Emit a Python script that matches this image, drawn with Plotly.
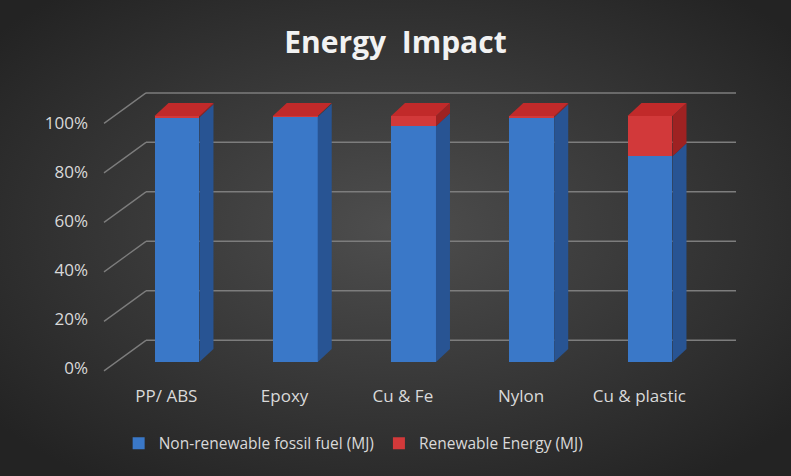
import base64
import plotly.graph_objects as go

# ---------------- data ----------------
categories = ["PP/ ABS", "Epoxy", "Cu & Fe", "Nylon", "Cu & plastic"]
non_renewable = [0.995, 0.996, 0.958, 0.995, 0.836]   # share of total energy
renewable = [0.005, 0.004, 0.042, 0.005, 0.164]
y_ticks = [0, 0.2, 0.4, 0.6, 0.8, 1.0]
y_tick_labels = ["0%", "20%", "40%", "60%", "80%", "100%"]
series_names = ["Non-renewable fossil fuel (MJ)", "Renewable Energy (MJ)"]

# ---------------- styling / geometry ----------------
W, H = 791, 476
PX_PER_CAT = 118.25          # horizontal px per category
X0_PX = 177                  # px of first category centre
PX_PER_UNIT = 246            # vertical px per 100 %
Y0_PX = 362                  # px of 0 % on the bar front plane

BAR_W = 0.38                 # front face width (category units)
DX = 14 / PX_PER_CAT         # bar depth offset
DY = 13 / PX_PER_UNIT

WALL_FRONT_X = (104 - X0_PX) / PX_PER_CAT
WALL_BACK_X = (146 - X0_PX) / PX_PER_CAT
WALL_RIGHT_X = (736 - X0_PX) / PX_PER_CAT
WALL_FRONT_YOFF = -0.036
WALL_BACK_YOFF = 0.088
WALL_SCALE = 1.006
LABEL_X = (88 - X0_PX) / PX_PER_CAT
LABEL_SCALE = 0.993
LABEL_YOFF = -0.03
CAT_LABEL_DX = -0.09
CAT_LABEL_Y = (Y0_PX - 398) / PX_PER_UNIT

FONT = "'Open Sans', Lato, sans-serif"
TXT = "#d9d9d9"
GRID = "#7d7d7d"
BLUE_FRONT, BLUE_SIDE = "#3a78c8", "#285493"
RED_FRONT, RED_SIDE, RED_TOP = "#d2393a", "#9e2222", "#c12a2a"

fig = go.Figure()

# background radial gradient as svg
svg = f'''<svg xmlns="http://www.w3.org/2000/svg" width="{W}" height="{H}">
<defs><radialGradient id="g" cx="50%" cy="48%" r="65%">
<stop offset="0%" stop-color="#4e4e4e"/><stop offset="100%" stop-color="#232323"/>
</radialGradient></defs><rect width="{W}" height="{H}" fill="url(#g)"/></svg>'''
bg = "data:image/svg+xml;base64," + base64.b64encode(svg.encode()).decode()

xs = list(range(len(categories)))

# gridlines (wall + floor diagonals)
shapes = []
for t in y_ticks:
    yf = t * WALL_SCALE + WALL_FRONT_YOFF
    yb = t * WALL_SCALE + WALL_BACK_YOFF
    shapes.append(dict(type="line", xref="x", yref="y", x0=WALL_FRONT_X, y0=yf,
                       x1=WALL_BACK_X, y1=yb, line=dict(color=GRID, width=1.3), layer="below"))
    shapes.append(dict(type="line", xref="x", yref="y", x0=WALL_BACK_X, y0=yb,
                       x1=WALL_RIGHT_X, y1=yb, line=dict(color=GRID, width=1.5), layer="below"))

# front faces as bars
fig.add_trace(go.Bar(x=xs, y=non_renewable, width=BAR_W, name=series_names[0],
                     marker=dict(color=BLUE_FRONT, line=dict(width=0))))
fig.add_trace(go.Bar(x=xs, y=renewable, width=BAR_W, name=series_names[1],
                     marker=dict(color=RED_FRONT, line=dict(width=0))))

def poly(px, py, color):
    fig.add_trace(go.Scatter(x=px + [px[0]], y=py + [py[0]], mode="lines", fill="toself",
                             fillcolor=color, line=dict(width=0, color=color),
                             hoverinfo="skip", showlegend=False))

hw = BAR_W / 2
for i, (a, b) in enumerate(zip(non_renewable, renewable)):
    segs = [(0, a, BLUE_SIDE), (a, a + b, RED_SIDE)]
    for lo, hi, c in segs:
        poly([i + hw, i + hw + DX, i + hw + DX, i + hw],
             [lo, lo + DY, hi + DY, hi], c)
    top = a + b
    poly([i - hw, i + hw, i + hw + DX, i - hw + DX],
         [top, top, top + DY, top + DY], RED_TOP)

# y tick labels
fig.add_trace(go.Scatter(x=[LABEL_X] * len(y_ticks),
                         y=[t * LABEL_SCALE + LABEL_YOFF for t in y_ticks],
                         text=y_tick_labels, mode="text", textposition="middle left",
                         textfont=dict(family=FONT, size=17, color=TXT),
                         hoverinfo="skip", showlegend=False))
# category labels
fig.add_trace(go.Scatter(x=[i + CAT_LABEL_DX for i in xs], y=[CAT_LABEL_Y] * len(xs),
                         text=categories, mode="text", textposition="middle center",
                         textfont=dict(family=FONT, size=17, color=TXT),
                         hoverinfo="skip", showlegend=False))

fig.update_layout(
    width=W, height=H, autosize=False,
    margin=dict(l=0, r=0, t=0, b=0),
    barmode="stack",
    paper_bgcolor="#333333", plot_bgcolor="rgba(0,0,0,0)",
    images=[dict(source=bg, xref="paper", yref="paper", x=0, y=1, sizex=1, sizey=1,
                 xanchor="left", yanchor="top", sizing="stretch", layer="below")],
    shapes=shapes,
    title=dict(text="<b>Energy  Impact</b>", x=0.5, xanchor="center", y=0.910, yanchor="middle",
               font=dict(family=FONT, size=30, color="#f2f2f2")),
    xaxis=dict(range=[(0 - X0_PX) / PX_PER_CAT, (W - X0_PX) / PX_PER_CAT], visible=False,
               fixedrange=True),
    yaxis=dict(range=[(Y0_PX - H) / PX_PER_UNIT, Y0_PX / PX_PER_UNIT], visible=False,
               fixedrange=True),
    legend=dict(orientation="h", x=0.150, y=0.068, xanchor="left", yanchor="middle",
                bgcolor="rgba(0,0,0,0)", font=dict(family=FONT, size=15.5, color=TXT),
                traceorder="normal", itemclick=False),
    showlegend=True,
)

fig.write_html("out.html")
